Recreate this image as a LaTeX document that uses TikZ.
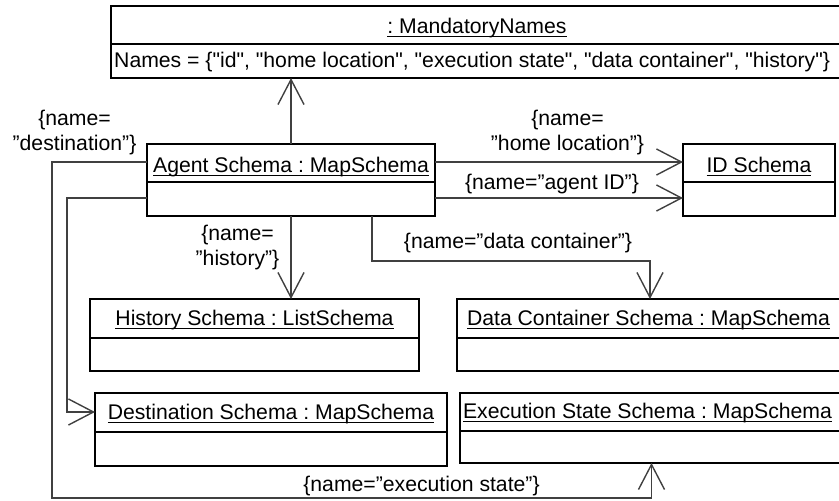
\documentclass[tikz,border=0pt]{standalone}
\usepackage{fontspec}
\setmainfont{Liberation Sans}[Ligatures=TeXOff]
\usetikzlibrary{arrows.meta}

% underlined object name with a fixed rule position
\newcommand\objname[1]{\setbox0\hbox{#1}\rlap{\rule[-4pt]{\wd0}{1.3pt}}\box0}

\begin{document}
\begin{tikzpicture}[x=1pt, y=-1pt, font=\fontsize{21.2}{25}\selectfont\frenchspacing,
  box/.style={draw=black, line width=1.8pt, inner sep=0pt, outer sep=0pt, anchor=north west},
  divider/.style={draw=black, line width=1.8pt},
  title/.style={anchor=base, inner sep=0pt},
  conn/.style={draw=black!75, line width=1.4pt},
  open/.style={conn, -{Straight Barb[length=25pt, width=26pt, line width=1.4pt]}},
  lbl/.style={align=center, inner sep=0pt}]

\useasboundingbox (0,0) rectangle (839,501);
\clip (0,0) rectangle (839,501);

% object boxes
\node[box, minimum width=732pt, minimum height=72pt] (mand) at (111,6) {};
\draw[divider] (mand.west |- 0,44) -- (mand.east |- 0,44);
\node[title] (mandt) at (477,33) {\objname{: MandatoryNames}};
\node[anchor=base west, inner sep=0pt] (names) at (114,67)
  {Names = \{"id", "home location", "execution state", "data container", "history"\}};

\node[box, minimum width=288pt, minimum height=72pt] (agent) at (147,144) {};
\draw[divider] (agent.west |- 0,182) -- (agent.east |- 0,182);
\node[title] (agentt) at (291,172) {\objname{Agent Schema : MapSchema}};

\node[box, minimum width=152pt, minimum height=72pt] (id) at (683,144) {};
\draw[divider] (id.west |- 0,182) -- (id.east |- 0,182);
\node[title] (idt) at (759,172) {\objname{ID Schema}};

\node[box, minimum width=329pt, minimum height=72pt] (hist) at (90,299) {};
\draw[divider] (hist.west |- 0,338) -- (hist.east |- 0,338);
\node[title] (histt) at (254.5,325) {\objname{History Schema : ListSchema}};

\node[box, minimum width=386pt, minimum height=72pt] (data) at (457,299) {};
\draw[divider] (data.west |- 0,338) -- (data.east |- 0,338);
\node[title] (datat) at (648.5,325) {\objname{Data Container Schema : MapSchema}};

\node[box, minimum width=352pt, minimum height=73pt] (dest) at (95,393) {};
\draw[divider] (dest.west |- 0,432) -- (dest.east |- 0,432);
\node[title] (destt) at (271,419) {\objname{Destination Schema : MapSchema}};

\node[box, minimum width=383pt, minimum height=70pt] (exec) at (460,393) {};
\draw[divider] (exec.west |- 0,431) -- (exec.east |- 0,431);
\node[title] (exect) at (647.5,418) {\objname{Execution State Schema : MapSchema}};

% links
\draw[open] (agent.north) -- (agent.north |- mand.south);
\draw[open] (agent.east |- 0,162) -- (id.west |- 0,162);
\draw[open] (agent.east |- 0,198) -- (id.west |- 0,198);
\draw[open] (agent.south) -- (agent.south |- hist.north);
\draw[open] (agent.south -| 372,0) -- (372,261) -| (data.north);
\draw[open] (agent.west |- 0,162) -- (52,162) -- (52,498) -| (exec.south);
\draw[open] (agent.west |- 0,198) -- (67,198) |- (dest.west |- 0,412);

% link labels
\node[lbl] (ldest) at (74.5,132.5) {\{name=\\”destination”\}};
\node[lbl] (lhome) at (567.5,132.5) {\{name=\\”home location”\}};
\node[lbl] (lagent) at (552,184) {\{name=”agent ID”\}};
\node[lbl] (lhist) at (237.5,247.5) {\{name=\\”history”\}};
\node[lbl] (ldata) at (518,243) {\{name=”data container”\}};
\node[lbl] (lexec) at (421.5,486) {\{name=”execution state”\}};
\end{tikzpicture}
\end{document}
